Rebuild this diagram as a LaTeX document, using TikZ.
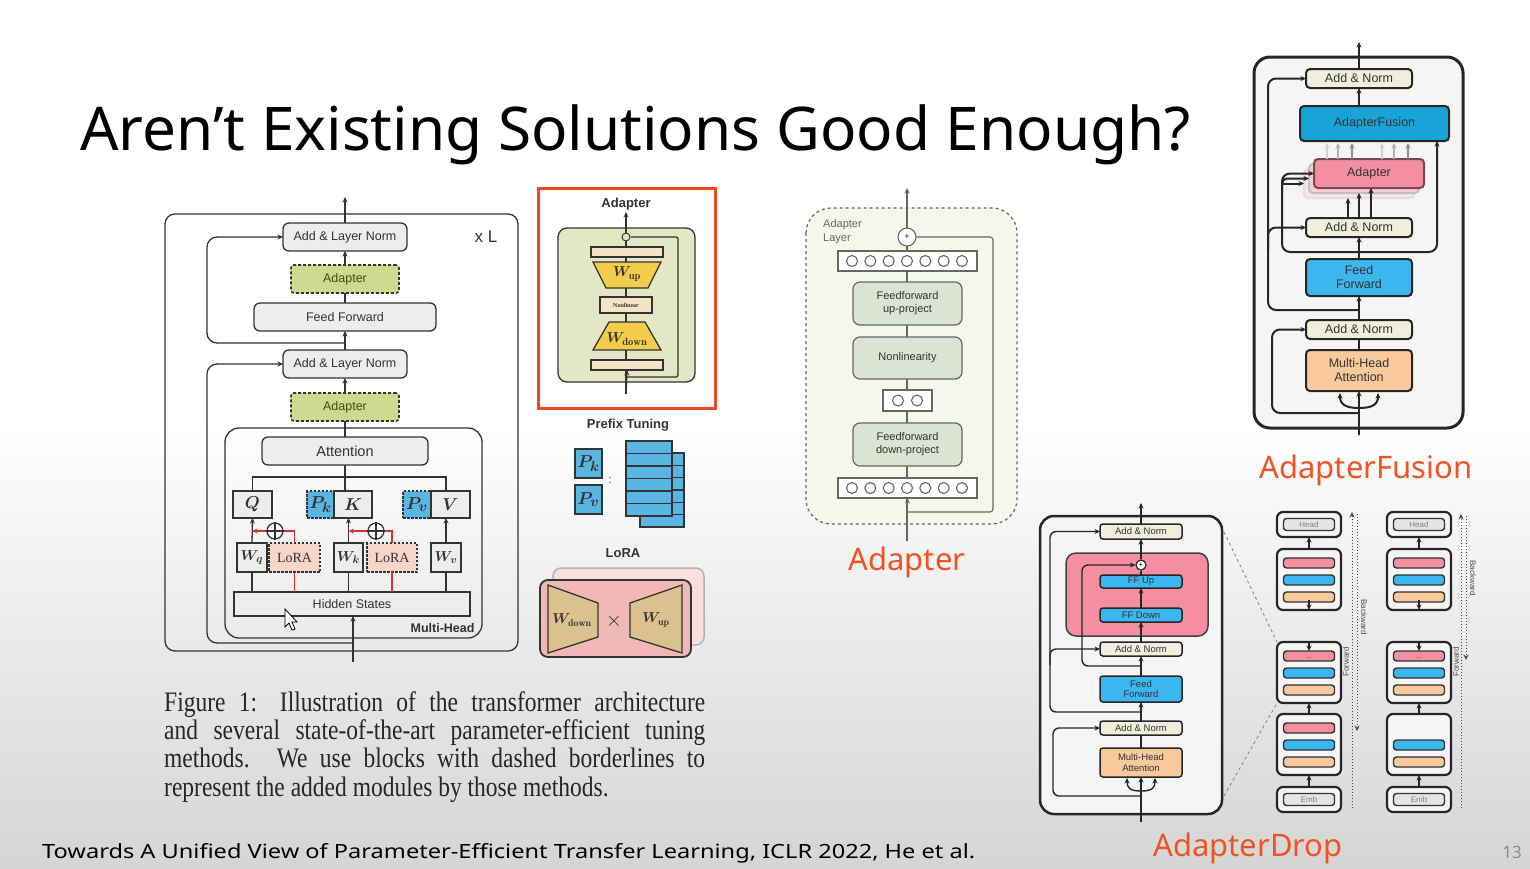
\documentclass[tikz,border=0pt]{standalone}
\usepackage{fontspec}
\usepackage{graphicx}
\newfontfamily\titlefont{Noto Sans}
\newfontfamily\dfont{Liberation Sans}
\newfontfamily\capfont{Liberation Serif}
\usetikzlibrary{arrows.meta,calc}
\definecolor{bgg}{HTML}{D5D5D5}
\definecolor{lg}{HTML}{EDEDED}
\definecolor{adg}{HTML}{CDD98E}
\definecolor{adgt}{HTML}{3F4F10}
\definecolor{pblue}{HTML}{5BB5E3}
\definecolor{lpink}{HTML}{F9D5C8}
\definecolor{lred}{HTML}{D9332B}
\definecolor{obord}{HTML}{F24A1D}
\definecolor{apfill}{HTML}{E3E7C6}
\definecolor{wyel}{HTML}{F4CC4C}
\definecolor{bpeach}{HTML}{F3E4C3}
\definecolor{hfill}{HTML}{F6F6EA}
\definecolor{hbox}{HTML}{DBE3D3}
\definecolor{anfill}{HTML}{EFEFDC}
\definecolor{afblue}{HTML}{19A4D8}
\definecolor{ffblue}{HTML}{3CB6EF}
\definecolor{apink}{HTML}{F48FA1}
\definecolor{mpeach}{HTML}{F9C99B}
\definecolor{olab}{HTML}{F05323}
\definecolor{lorapink}{HTML}{F1B9B5}
\definecolor{ltan}{HTML}{DCC18E}
\definecolor{dk}{HTML}{333333}
\definecolor{hgr}{HTML}{666666}
\newcommand\mkbox[7]{\node[#2, minimum width={(#5)-(#3)}, minimum height={(#6)-(#4)}] (#1) at ({((#3)+(#5))/2},{((#4)+(#6))/2}) {#7};}
\newcommand\cblock[4]{%
  \node[cbox, minimum width=64, minimum height=61] (#1) at ({(#2)+32},{(#3)+30.5}) {};
  \ifnum#4=1 \node[cbar, fill=apink] (#1p) at ({(#2)+32},{(#3)+14}) {};\fi
  \node[cbar, fill=ffblue] (#1b) at ({(#2)+32},{(#3)+31}) {};
  \node[cbar, fill=mpeach] (#1o) at ({(#2)+32},{(#3)+48}) {};}
\newcommand\cend[4]{%
  \node[cbox, minimum width=64, minimum height=25] (#1) at ({(#2)+32},{(#3)+12.5}) {};
  \node[cbar, fill=gray!20, minimum height=12, font=\dfont\fontsize{8}{8}\selectfont, text=gray] (#1t) at (#1.center) {#4};}
\tikzset{
 bbase/.style={draw=dk, inner sep=0pt, outer sep=0pt, align=center, text=dk},
 lfbox/.style={bbase, line width=1.3pt, fill=lg, rounded corners=6pt, font=\dfont\fontsize{12.5}{14}\selectfont},
 lfad/.style={bbase, line width=1.6pt, dash pattern=on 3pt off 2pt, fill=adg, rounded corners=3pt, font=\dfont\fontsize{12.5}{14}\selectfont, text=adgt},
 sq/.style={bbase, line width=1.3pt, fill=lg, font=\fontsize{19}{20}\selectfont\boldmath},
 sqs/.style={bbase, line width=1.3pt, fill=lg, font=\fontsize{15}{16}\selectfont\boldmath},
 pdash/.style={bbase, line width=1.5pt, dash pattern=on 2.5pt off 1.5pt, fill=pblue, font=\fontsize{19}{20}\selectfont\boldmath},
 ldash/.style={bbase, line width=1.5pt, dash pattern=on 2.5pt off 1.5pt, fill=lpink, font=\capfont\fontsize{14}{16}\selectfont},
 ln/.style={draw=dk, line width=1.3pt},
 rln/.style={draw=lred, line width=1.3pt},
 plusc/.style={circle, draw=dk, line width=1.3pt, fill=white, minimum size=16pt, inner sep=0pt},
 btitle/.style={font=\dfont\bfseries\fontsize{13}{14}\selectfont, text=dk},
 apbar/.style={bbase, line width=1.2pt, fill=bpeach},
 hl/.style={draw=hgr, line width=1.1pt},
 hb/.style={bbase, draw=hgr, fill=hbox, rounded corners=7pt, line width=1.2pt, font=\dfont\fontsize{11}{13}\selectfont},
 hcb/.style={bbase, draw=hgr, fill=white, line width=1.2pt},
 fl/.style={draw=black!85, line width=2pt},
 fbox/.style={bbase, draw=black!85, line width=2pt, rounded corners=4pt, font=\dfont\fontsize{12.5}{14}\selectfont},
 anb/.style={fbox, fill=anfill},
 dl/.style={draw=black!85, line width=1.4pt},
 dbox/.style={bbase, draw=black!85, line width=1.5pt, rounded corners=3pt, font=\dfont\fontsize{9.5}{10.5}\selectfont},
 danb/.style={dbox, fill=anfill},
 cbox/.style={bbase, draw=black!85, line width=2.2pt, fill=gray!8, rounded corners=6pt},
 cbar/.style={bbase, draw=black!80, line width=1.4pt, rounded corners=3pt, minimum width=51, minimum height=10},
 olabel/.style={font=\titlefont\fontsize{31}{34}\selectfont, text=olab},
 dotl/.style={draw=black!70, line width=1pt, dotted},
 tinyl/.style={font=\dfont\fontsize{8}{9}\selectfont, text=black!70},
}
\begin{document}
\begin{tikzpicture}[x=1pt,y=-1pt,>={Stealth[length=5.5pt,width=5pt]}]
\useasboundingbox (0,0) rectangle (1530,868);
\fill[white] (0,0) rectangle (1530,868);
\shade[top color=white, bottom color=bgg] (0,420) rectangle (1530,868);

% ---------- title, citation ----------
\node[anchor=base west, inner sep=0] (title) at (80,150) {\resizebox{1110pt}{!}{\titlefont Aren’t Existing Solutions Good Enough?}};
\node[anchor=base west, inner sep=0] (cite) at (42,858) {\resizebox{933pt}{15pt}{\titlefont Towards A Unified View of Parameter-Efficient Transfer Learning, ICLR 2022, He et al.}};
\node[font=\titlefont\fontsize{17}{18}\selectfont, text=black!45] (pg) at (1512,852) {13};

% ---------- caption ----------
\node[anchor=north west, inner sep=0, text=black!85] (cap) at (164,691) {\scalebox{1}[1.2]{\parbox[t]{541pt}{\capfont\fontsize{23.5}{23.6}\selectfont\makebox[541pt][s]{Figure 1:  Illustration of the transformer architecture}\\ \makebox[541pt][s]{and several state-of-the-art parameter-efficient tuning}\\ \makebox[541pt][s]{methods.  We use blocks with dashed borderlines to}\\ represent the added modules by those methods.}}};

% ---------- left transformer figure ----------
\draw[ln, rounded corners=10pt] (165,214) rectangle (518,651);
\mkbox{aln1}{lfbox}{283}{223}{407}{251}{Add \& Layer Norm}
\mkbox{ad1}{lfad}{291}{265}{399}{293}{Adapter}
\mkbox{ff}{lfbox}{254}{303}{436}{331}{Feed Forward}
\mkbox{aln2}{lfbox}{283}{350}{407}{378}{Add \& Layer Norm}
\mkbox{ad2}{lfad}{291}{393}{399}{421}{Adapter}
\draw[ln, rounded corners=14pt] (225,428) rectangle (482,638);
\mkbox{att}{lfbox, font=\dfont\fontsize{14.5}{16}\selectfont}{262}{437}{428}{465}{Attention}
\node[font=\dfont\fontsize{17}{18}\selectfont, text=dk] (xl) at (486,237) {x L};
\coordinate (top1) at (345,197);
\draw[ln,->] (aln1.north) -- (top1);
\draw[ln,->] (ad1.north) -- (aln1.south);
\draw[ln] (ff.north) -- (ad1.south);
\draw[ln,->] (aln2.north) -- (ff.south);
\draw[ln,->] (ad2.north) -- (aln2.south);
\draw[ln] (att.north) -- (ad2.south);
\coordinate (j1) at (345,343);
\draw[ln,->,rounded corners=10pt] (j1) -| (207,300) |- (aln1.west);

\mkbox{Q}{sq}{233}{491}{272}{518}{$Q$}
\mkbox{Pk}{pdash}{307}{491}{334}{518}{$P_k$}
\mkbox{K}{sq}{334}{491}{372}{518}{$K$}
\mkbox{Pv}{pdash}{403}{491}{431}{518}{$P_v$}
\mkbox{V}{sq}{431}{491}{470}{518}{$V$}
\mkbox{Wq}{sqs}{237}{543}{267}{572}{$W_q$}
\mkbox{L1}{ldash}{269}{543}{320}{572}{LoRA}
\mkbox{Wk}{sqs}{334}{543}{363}{572}{$W_k$}
\mkbox{L2}{ldash}{367}{543}{417}{572}{LoRA}
\mkbox{Wv}{sqs}{431}{543}{461}{572}{$W_v$}
\mkbox{hid}{lfbox, rounded corners=0pt}{234}{592}{470}{616}{Hidden States}
\node[plusc] (p1) at (275,531) {};
\node[plusc] (p2) at (376,531) {};
\draw[ln] (p1.north) -- (p1.south) (p1.west) -- (p1.east);
\draw[ln] (p2.north) -- (p2.south) (p2.west) -- (p2.east);
\draw[ln] (Wq.south |- hid.north) -- (Wq.south);
\draw[ln,->] (Wq.north) -- (Q.south);
\draw[ln] (Wk.south |- hid.north) -- (Wk.south);
\draw[ln,->] (Wk.north) -- (Wk.north |- K.south);
\draw[ln] (Wv.south |- hid.north) -- (Wv.south);
\draw[ln,->] (Wv.north) -- (Wv.north |- V.south);
\draw[rln] (L1.south |- hid.north) -- (L1.south);
\draw[rln] (L1.north) |- (p1.east);
\draw[rln,->] (p1.west) -- (p1.west -| Wq.north);
\draw[rln] (L2.south |- hid.north) -- (L2.south);
\draw[rln] (L2.north) |- (p2.east);
\draw[rln,->] (p2.west) -- (p2.west -| Wk.north);
\coordinate (bus) at (446,477);
\draw[ln] (Q.north) |- (bus) -- (bus |- V.north);
\draw[ln] (att.south) -- (att.south |- K.north);
\node[anchor=east, font=\dfont\bfseries\fontsize{12.5}{14}\selectfont, text=dk] (mh) at (478,628) {Multi-Head};
\coordinate (in1) at (353,662);
\coordinate (j2) at (353,643);
\draw[ln,->] (in1) -- (in1 |- hid.south);
\draw[ln,->,rounded corners=10pt] (j2) -| (207,500) |- (aln2.west);
\draw[fill=white, draw=black, line width=0.8pt] (285,609) -- (285,627) -- (289,623) -- (292,630) -- (295,629) -- (292,622) -- (297,622) -- cycle;

% ---------- Adapter panel (orange frame) ----------
\draw[draw=obord, line width=3pt] (538,188) rectangle (715,408);
\node[btitle] (adtit) at (626,204) {Adapter};
\draw[draw=dk, line width=1.3pt, fill=apfill, rounded corners=9pt] (558,228) rectangle (695,382);
\coordinate (ain) at (626,394);
\coordinate (aout) at (626,212);
\coordinate (aj) at (626,377);
\draw[ln,->] (ain) -- (aout);
\node[circle, draw=dk, line width=1pt, fill=apfill, minimum size=8pt, inner sep=0pt] (ac) at (626,237) {};
\mkbox{abar1}{apbar}{591}{247}{663}{257}{}
\draw[ln, fill=wyel] (593,262) -- (661,262) -- (648,288) -- (606,288) -- cycle;
\node[font=\fontsize{15}{16}\selectfont\boldmath, text=dk] (awu) at (627,274) {$W_{\mathrm{up}}$};
\mkbox{anl}{apbar, font=\capfont\bfseries\fontsize{6}{7}\selectfont}{600}{297}{652}{313}{Nonlinear}
\draw[ln, fill=wyel] (609,322) -- (645,322) -- (661,350) -- (593,350) -- cycle;
\node[font=\fontsize{15}{16}\selectfont\boldmath, text=dk] (awd) at (627,339) {$W_{\mathrm{down}}$};
\mkbox{abar2}{apbar}{591}{360}{663}{370}{}
\draw[ln,->] (ain) -- (abar2.south);
\draw[ln, rounded corners=2pt] (aj) -| (678,300) |- (ac.east);

% ---------- Prefix tuning ----------
\node[btitle] (ptit) at (628,425) {Prefix Tuning};
\mkbox{ppk}{pdash, solid, line width=1.3pt}{575}{449}{602}{478}{$P_k$}
\mkbox{ppv}{pdash, solid, line width=1.3pt}{575}{485}{602}{514}{$P_v$}
\node[font=\fontsize{14}{14}\selectfont, text=dk] (pcol) at (610,480) {:};
\foreach \i in {0,...,5} {\draw[ln, fill=pblue] (640,{453+\i*12.33}) rectangle ++(44,12.33);}
\foreach \i in {0,...,5} {\draw[ln, fill=pblue] (626,{441+\i*12.5}) rectangle ++(46,12.5);}

% ---------- LoRA ----------
\node[btitle] (ltit) at (623,553) {LoRA};
\draw[draw=black!30, line width=1.5pt, fill=lorapink!45, rounded corners=8pt] (553,568) rectangle (704,645);
\draw[draw=dk, line width=1.8pt, fill=lorapink, rounded corners=8pt] (540,580) rectangle (691,657);
\draw[ln, fill=ltan] (548,585) -- (598,603) -- (598,637) -- (548,653) -- cycle;
\draw[ln, fill=ltan] (682,585) -- (630,603) -- (630,637) -- (682,653) -- cycle;
\node[font=\fontsize{14}{14}\selectfont\boldmath, text=dk] (lwd) at (572,620) {$W_{\mathrm{down}}$};
\node[font=\fontsize{20}{20}\selectfont, text=dk] (lx) at (614,621) {$\times$};
\node[font=\fontsize{14}{14}\selectfont\boldmath, text=dk] (lwu) at (656,620) {$W_{\mathrm{up}}$};

% ---------- Houlsby adapter ----------
\draw[draw=hgr, dashed, line width=1.2pt, fill=hfill, rounded corners=25pt] (806,208) rectangle (1017,524);
\node[anchor=north west, align=left, inner sep=0, font=\dfont\fontsize{11}{14}\selectfont, text=hgr] (alayer) at (823,219) {Adapter\\Layer};
\coordinate (hin) at (907,541);
\coordinate (hout) at (907,188);
\draw[hl,->] (hin) -- (hout);
\node[circle, draw=hgr, fill=white, line width=1.1pt, minimum size=18pt, inner sep=0pt, font=\dfont\fontsize{9}{9}\selectfont, text=dk] (hp) at (907,237) {+};
\mkbox{hc1}{hcb}{838}{251}{977}{271}{}
\mkbox{hup}{hb}{853}{282}{962}{325}{Feedforward\\up-project}
\mkbox{hnl}{hb}{853}{337}{962}{379}{Nonlinearity}
\mkbox{hc2}{hcb}{883}{390}{932}{411}{}
\mkbox{hdn}{hb}{853}{423}{962}{466}{Feedforward\\down-project}
\mkbox{hc3}{hcb}{838}{478}{977}{498}{}
\foreach \k in {0,...,6} {\draw[hl] ({852+\k*18.33},261) circle (5.5); \draw[hl] ({852+\k*18.33},488) circle (5.5);}
\draw[hl] (898,400.5) circle (5.5);
\draw[hl] (917,400.5) circle (5.5);
\coordinate (hj) at (907,512);
\draw[hl,->] (hin) -- (hc3.south);
\draw[hl, rounded corners=3pt] (hj) -| (993,400) |- (hp.east);
\node[olabel] (lab1) at (907,562) {Adapter};

% ---------- AdapterFusion ----------
\draw[draw=black!85, line width=3pt, fill=gray!8, rounded corners=16pt] (1254,57) rectangle (1463,428);
\mkbox{an1}{anb}{1306}{320}{1412}{339}{Add \& Norm}
\mkbox{mha}{fbox, fill=mpeach}{1306}{350}{1412}{391}{Multi-Head\\Attention}
\mkbox{fff}{fbox, fill=ffblue}{1306}{259}{1412}{296}{Feed\\Forward}
\mkbox{an2}{anb}{1306}{218}{1412}{237}{Add \& Norm}
\mkbox{adp3}{fbox, fill=apink!25, draw=black!12}{1304}{169}{1414}{198}{}
\mkbox{adp2}{fbox, fill=apink!45, draw=black!25}{1309}{164}{1419}{193}{}
\mkbox{adp}{fbox, fill=apink, draw=apink!50!black}{1314}{159}{1424}{188}{Adapter}
\mkbox{afu}{fbox, fill=afblue}{1300}{106}{1449}{141}{AdapterFusion}
\mkbox{an3}{anb}{1306}{69}{1412}{88}{Add \& Norm}
\coordinate (fin) at (1359,435);
\coordinate (f0) at (1359,408);
\coordinate (fa) at (1359,413);
\draw[fl,->] (fin) -- (mha.south);
\draw[fl,->] (f0) .. controls (1345,408) and (1340,404) .. (1340,393);
\draw[fl,->] (f0) .. controls (1373,408) and (1378,404) .. (1378,393);
\draw[fl,->,rounded corners=8pt] (fa) -| (1272,370) |- (an1.west);
\draw[fl] (mha.north) -- (an1.south);
\draw[fl,->] (an1.north) -- (fff.south);
\coordinate (fb) at (1359,310);
\draw[fl,->,rounded corners=8pt] (fb) -| (1268,150) |- (an3.west);
\coordinate (fbr) at (1268,250);
\draw[fl,->,rounded corners=8pt] (fbr) |- (an2.west);
\draw[fl,->] (fff.north) -- (an2.south);
\coordinate (fc) at (1359,252);
\draw[fl,->,rounded corners=8pt] (fc) -| (1282,200) |- (adp.west);
\draw[fl,->,rounded corners=5pt] (1282,192) |- (adp2.west);
\draw[fl,->] (1282,183.5) -- (adp3.west);
\draw[fl,->,rounded corners=8pt] (fc) -| ($(afu.south east)+(-12,0)$);
\draw[fl,->] ($(an2.north)+(-11,0)$) -- ($(adp3.south)+(-11,0)$);
\draw[fl,->] (an2.north) -- ($(adp2.south)+(-5,0)$);
\draw[fl,->] ($(an2.north)+(12,0)$) -- ($(adp.south)+(2,0)$);
\foreach \dx/\c in {-42/18,-31/30,-17/45,13/18,25/30,39/45} {\draw[draw=black!\c, line width=2pt, ->] ($(adp.north)+(\dx,0)$) -- ($(adp.north)+(\dx,-16)$);}
\draw[fl,->] (an3.south |- afu.north) -- (an3.south);
\coordinate (ftop) at (1359,42);
\draw[fl,->] (an3.north) -- (ftop);
\node[olabel] (lab2) at (1366,470) {AdapterFusion};

% ---------- AdapterDrop ----------
\draw[draw=black!85, line width=2.5pt, fill=gray!8, rounded corners=14pt] (1040,516) rectangle (1222,814);
\draw[draw=black!75, line width=1.5pt, fill=apink, rounded corners=10pt] (1066,553) rectangle (1208,636);
\mkbox{dan3}{danb}{1100}{524}{1182}{539}{Add \& Norm}
\node[circle, draw=black!85, fill=white, line width=1.2pt, minimum size=10pt, inner sep=0pt, font=\dfont\fontsize{8}{8}\selectfont] (dp) at (1141,565) {+};
\mkbox{dffu}{dbox, fill=ffblue}{1100}{575}{1182}{588}{FF Up}
\mkbox{dffd}{dbox, fill=ffblue}{1100}{608}{1182}{622}{FF Down}
\mkbox{dan2}{danb}{1100}{642}{1182}{656}{Add \& Norm}
\mkbox{dff}{dbox, fill=ffblue}{1100}{676}{1182}{702}{Feed\\Forward}
\mkbox{dan1}{danb}{1100}{721}{1182}{735}{Add \& Norm}
\mkbox{dmha}{dbox, fill=mpeach}{1100}{748}{1182}{777}{Multi-Head\\Attention}
\coordinate (din) at (1141,822);
\coordinate (d0) at (1141,791);
\coordinate (da) at (1141,796);
\draw[dl,->] (din) -- (dmha.south);
\draw[dl,->] (d0) .. controls (1130,791) and (1127,788) .. (1127,778);
\draw[dl,->] (d0) .. controls (1152,791) and (1155,788) .. (1155,778);
\draw[dl,->,rounded corners=6pt] (da) -| (1053,760) |- (dan1.west);
\draw[dl] (dmha.north) -- (dan1.south);
\draw[dl,->] (dan1.north) -- (dff.south);
\coordinate (db) at (1141,712);
\draw[dl,->,rounded corners=6pt] (db) -| (1050,600) |- (dan3.west);
\coordinate (dbr) at (1050,665);
\draw[dl,->,rounded corners=6pt] (dbr) |- (dan2.west);
\draw[dl,->] (dff.north) -- (dan2.south);
\coordinate (dc) at (1141,666);
\draw[dl,->,rounded corners=6pt] (dc) -| (1082,600) |- (dp.west);
\draw[dl,->] (dan2.north) -- (dffd.south);
\draw[dl,->] (dffd.north) -- (dffu.south);
\draw[dl] (dffu.north) -- (dp.south);
\draw[dl,->] (dp.north) -- (dan3.south);
\coordinate (dtop) at (1141,503);
\draw[dl,->] (dan3.north) -- (dtop);
\node[olabel] (lab3) at (1248,848) {AdapterDrop};

% columns
\cend{c1h}{1277}{512}{Head}
\cblock{c1a}{1277}{549}{1}
\cblock{c1b}{1277}{642}{1}
\cblock{c1c}{1277}{714}{1}
\cend{c1e}{1277}{787}{Emb}
\cend{c2h}{1387}{512}{Head}
\cblock{c2a}{1387}{549}{1}
\cblock{c2b}{1387}{642}{1}
\cblock{c2c}{1387}{714}{0}
\cend{c2e}{1387}{787}{Emb}
\foreach \c in {c1,c2} {
  \draw[dl,->] (\c e.north) -- (\c c.south);
  \draw[dl,->] (\c c.north) -- (\c b.south);
  \draw[dl,->] (\c a.north) -- (\c h.south);
  \draw[dl,->] (\c b.north) -- ($(\c b.north)+(0,9)$);
  \node[font=\dfont\fontsize{7}{7}\selectfont, text=black!70] (\c dots) at ($(\c b.north)+(0,16)$) {...};
  \draw[dl,->] ($(\c a.south)+(0,-10)$) -- (\c a.south);
}
\draw[dashed, draw=black!50, line width=0.8pt] (1224,532) -- (c1b.north west);
\draw[dashed, draw=black!50, line width=0.8pt] (1224,796) -- (c1b.south west);
\coordinate (f1b) at (1352,808); \coordinate (f1t) at (1352,512);
\draw[dotl,->] (f1b) -- (f1t);
\coordinate (b1t) at (1357,514); \coordinate (b1b) at (1357,731);
\draw[dotl,->] (b1t) -- (b1b);
\node[tinyl, rotate=-90] (bw1) at (1364,617) {Backward};
\node[tinyl, rotate=90] (fw1) at (1346,662) {Forward};
\coordinate (f2b) at (1461,808); \coordinate (f2t) at (1461,514);
\draw[dotl,->] (f2b) -- (f2t);
\coordinate (b2t) at (1466,516); \coordinate (b2b) at (1466,660);
\draw[dotl,->] (b2t) -- (b2b);
\node[tinyl, rotate=-90] (bw2) at (1473,578) {Backward};
\node[tinyl, rotate=90] (fw2) at (1456,662) {Forward};
\end{tikzpicture}
\end{document}
